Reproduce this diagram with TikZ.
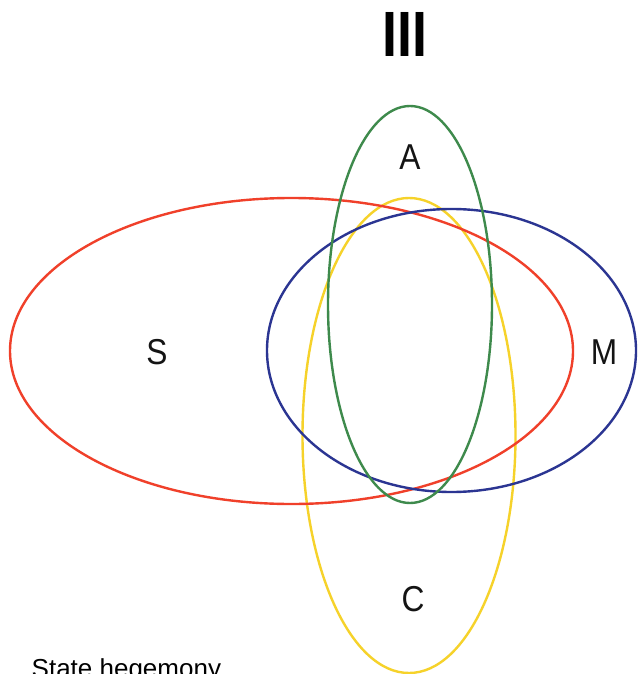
\documentclass[tikz,border=0pt]{standalone}
\usepackage{fontspec}
\setmainfont{Liberation Sans}
\definecolor{cred}{HTML}{F0402A}
\definecolor{cgreen}{HTML}{3E8A4C}
\definecolor{cblue}{HTML}{2B3592}
\definecolor{cyellow}{HTML}{F6D22A}
\tikzset{
  ring/.style={line width=2.4pt},
  lbl/.style={font=\fontsize{36}{40}\selectfont, inner sep=0pt, text=black!92}
}
\newcommand{\narrowtxt}[1]{\scalebox{0.88}[1]{#1}}
\begin{document}
\begin{tikzpicture}[x=1pt,y=-1pt]
\useasboundingbox (0,0) rectangle (638,674);
\fill[white] (0,0) rectangle (638,674);
\draw[ring, cyellow] (409,435.5) ellipse [x radius=106.5pt, y radius=237.5pt];
\draw[ring, cred] (291.5,351) ellipse [x radius=281.5pt, y radius=153pt];
\draw[ring, cblue] (451.5,350.5) ellipse [x radius=184.5pt, y radius=141.5pt];
\draw[ring, cgreen] (410,304.5) ellipse [x radius=82pt, y radius=198.5pt];
\node[lbl] (A) at (410,157) {\narrowtxt{A}};
\node[lbl] (S) at (157,352) {\narrowtxt{S}};
\node[lbl] (M) at (604,352) {\narrowtxt{M}};
\node[lbl] (C) at (413,599) {\narrowtxt{C}};
\node[inner sep=0pt, anchor=base, font=\fontsize{64}{70}\selectfont\bfseries] (title) at (405,57) {\scalebox{0.84}[1]{III}};
\node[inner sep=0pt, anchor=base west, font=\fontsize{26}{30}\selectfont] (state) at (31.5,677.5) {State hegemony};
\end{tikzpicture}
\end{document}
